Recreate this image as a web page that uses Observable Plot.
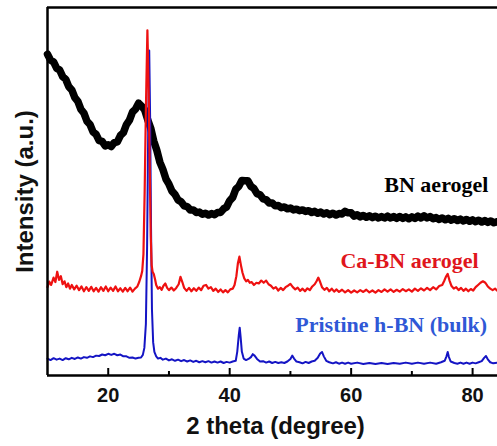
<!DOCTYPE html>
<html><head><meta charset="utf-8">
<script src="https://cdn.jsdelivr.net/npm/d3@7"></script>
<script src="https://cdn.jsdelivr.net/npm/@observablehq/plot@0.6"></script>
<style>body{margin:0;background:#fff}#chart svg{display:block}</style>
</head><body><div id="chart"></div>
<script>
// ---- data (two-theta in degrees, intensity in arbitrary units) ----
const xDomain = [10, 84.1];
const yDomain = [0, 100];
const majorTicks = [20, 40, 60, 80];
const minorTicks = [30, 50, 70];
const xTitle = "2 theta (degree)";
const yTitle = "Intensity (a.u.)";
const seriesLabels = ["BN aerogel", "Ca-BN aerogel", "Pristine h-BN (bulk)"];
const labelX = [82.6, 81.0, 82.4];
const labelY = [50.0, 29.3, 11.7];

const bnAerogel = [
[10,87.3],[10.5,85.7],[11,85.2],[11.5,83.5],[12,83.0],[12.5,81.2],[13,80.5],[13.5,78.5],[14,77.6],[14.5,75.5],
[15,74.5],[15.5,72.3],[16,71.3],[16.5,69.1],[17,68.2],[17.5,66.2],[18,65.5],[18.5,63.8],[19,63.6],[19.5,62.4],
[20,62.7],[20.5,62.2],[21,63.3],[21.5,63.5],[22,65.2],[22.5,66.0],[23,68.2],[23.5,69.4],[24,71.6],[24.5,72.4],
[25,74.0],[25.5,73.2],[26,72.2],[26.5,69.5],[27,67.2],[27.5,63.7],[28,61.2],[28.5,58.0],[29,56.0],[29.5,53.4],
[30,52.0],[30.5,50.1],[31,49.2],[31.5,47.7],[32,47.2],[32.5,46.1],[33,45.9],[33.5,45.0],[34,45.0],[34.5,44.3],
[35,44.4],[35.5,43.8],[36,44.1],[36.5,43.6],[37,44.0],[37.5,43.7],[38,44.3],[38.5,44.3],[39,45.3],[39.5,45.8],
[40,47.5],[40.5,48.4],[41,50.6],[41.5,51.4],[42,53.0],[42.5,52.9],[43,52.9],[43.5,51.4],[44,50.8],[44.5,49.4],
[45,49.1],[45.5,48.0],[46,47.8],[46.5,46.9],[47,46.9],[47.5,46.1],[48,46.2],[48.5,45.6],[49,45.8],[49.5,45.3],
[50,45.5],[50.5,45.0],[51,45.2],[51.5,44.8],[52,45.0],[52.5,44.6],[53,44.8],[53.5,44.3],[54,44.6],[54.5,44.1],
[55,44.4],[55.5,43.9],[56,44.2],[56.5,43.7],[57,44.1],[57.5,43.6],[58,44.0],[58.5,43.9],[59,44.6],[59.5,44.2],
[60,44.2],[60.5,43.3],[61,43.7],[61.5,43.1],[62,43.5],[62.5,43.0],[63,43.4],[63.5,42.9],[64,43.3],[64.5,42.8],
[65,43.2],[65.5,42.8],[66,43.3],[66.5,42.8],[67,43.2],[67.5,42.7],[68,43.2],[68.5,42.7],[69,43.1],[69.5,42.6],
[70,43.1],[70.5,42.7],[71,43.3],[71.5,42.8],[72,43.4],[72.5,42.8],[73,43.2],[73.5,42.6],[74,42.9],[74.5,42.4],
[75,42.8],[75.5,42.3],[76,42.7],[76.5,42.2],[77,42.6],[77.5,42.1],[78,42.5],[78.5,42.0],[79,42.4],[79.5,41.9],
[80,42.3],[80.5,41.8],[81,42.2],[81.5,41.7],[82,42.1],[82.5,41.6],[83,42.0],[83.5,41.5],[84.1,41.8]
];

const caBnAerogel = [
[10,24.0],[10.3,25.5],[10.6,24.6],[11,26.6],[11.3,25.4],[11.6,28.2],[11.9,26.0],[12.2,27.0],[12.5,24.8],[12.8,25.6],
[13.1,24.0],[13.4,25.0],[13.7,23.6],[14,24.6],[14.4,23.4],[14.8,24.4],[15.2,23.2],[15.6,24.2],[16,22.9],[16.4,24.0],
[16.8,23.0],[17.2,24.1],[17.6,22.9],[18,23.8],[18.4,22.8],[18.8,24.0],[19.2,23.0],[19.6,24.2],[20,22.9],[20.4,23.9],
[20.8,23.0],[21.2,24.2],[21.6,22.9],[22,23.7],[22.4,22.8],[22.8,23.8],[23.2,22.9],[23.6,23.9],[24,22.8],[24.4,23.6],
[24.8,24.2],[25.1,25.4],[25.4,27.0],[25.6,28.4],[25.8,33],[26.0,50],[26.2,72],[26.45,93.8],[26.65,78],[26.85,55],
[27.0,38],[27.15,30],[27.3,28.2],[27.5,27.6],[27.7,26.2],[27.9,24.6],[28.2,23.6],[28.5,24.0],[28.8,23.3],[29.1,24.4],
[29.4,25.0],[29.7,23.8],[30,23.2],[30.4,23.9],[30.8,23.1],[31.2,23.8],[31.6,24.8],[31.9,26.8],[32.2,25.4],[32.5,23.8],
[32.9,23.0],[33.3,23.8],[33.7,22.9],[34.1,23.7],[34.5,23.0],[34.9,23.9],[35.3,23.2],[35.7,24.4],[36.1,24.6],[36.5,23.6],
[36.9,24.0],[37.3,23.0],[37.7,23.6],[38.1,22.7],[38.5,23.4],[38.9,22.6],[39.3,23.2],[39.7,22.6],[40.1,23.4],[40.5,23.6],
[40.8,24.6],[41.1,27.0],[41.35,30.5],[41.6,32.3],[41.85,30.0],[42.1,28.0],[42.4,26.4],[42.7,25.6],[43,26.0],[43.3,25.2],
[43.6,25.4],[44,24.6],[44.4,25.2],[44.8,25.0],[45.2,25.8],[45.6,25.2],[46,25.8],[46.4,24.8],[46.8,24.4],[47.2,23.6],
[47.6,24.0],[48,23.1],[48.4,23.8],[48.8,23.2],[49.2,24.0],[49.6,24.4],[50,24.9],[50.4,24.0],[50.8,23.4],[51.2,23.9],
[51.6,23.0],[52,23.6],[52.4,22.9],[52.8,23.7],[53.2,23.2],[53.6,24.2],[54,24.8],[54.3,25.6],[54.6,26.6],[54.9,25.4],
[55.2,24.0],[55.6,23.3],[56,23.8],[56.4,22.9],[56.8,23.6],[57.2,22.8],[57.6,23.4],[58,22.7],[58.5,23.3],[59,22.6],
[59.5,23.2],[60,22.5],[60.5,23.1],[61,22.6],[61.5,23.2],[62,22.7],[62.5,23.3],[63,22.6],[63.5,23.1],[64,22.5],
[64.5,23.2],[65,22.7],[65.5,23.4],[66,22.8],[66.5,23.4],[67,22.7],[67.5,23.3],[68,22.8],[68.5,23.5],[69,22.9],
[69.5,23.4],[70,22.8],[70.5,23.6],[71,23.0],[71.5,23.7],[72,23.1],[72.5,23.8],[73,23.2],[73.5,24.0],[74,23.4],
[74.5,24.3],[75,24.6],[75.3,25.6],[75.6,26.8],[75.9,27.6],[76.2,25.8],[76.5,24.4],[76.9,23.6],[77.3,24.0],[77.7,23.2],
[78.1,23.8],[78.5,23.0],[78.9,23.6],[79.3,22.9],[79.7,23.5],[80.1,23.1],[80.5,24.0],[80.9,24.6],[81.3,25.2],[81.7,25.6],
[82.1,25.2],[82.5,24.2],[82.9,23.6],[83.3,23.2],[83.7,23.6],[84.1,23.0]
];

const pristineHBN = [
[10,4.6],[10.5,4.2],[11,4.7],[11.5,4.3],[12,4.6],[12.5,4.2],[13,4.7],[13.5,4.4],[14,4.8],[14.5,4.5],
[15,4.9],[15.5,4.6],[16,5.0],[16.5,4.8],[17,5.2],[17.5,5.0],[18,5.4],[18.5,5.3],[19,5.7],[19.5,5.5],
[20,5.9],[20.5,5.6],[21,5.9],[21.5,5.5],[22,5.7],[22.5,5.2],[23,5.2],[23.5,4.8],[24,4.9],[24.5,4.6],
[25,4.8],[25.4,4.9],[25.7,5.6],[25.95,7.5],[26.2,14],[26.4,35],[26.6,70],[26.75,88.3],[26.9,70],[27.05,40],
[27.2,18],[27.4,9],[27.6,6.4],[27.9,5.2],[28.2,4.6],[28.6,4.8],[29,4.3],[29.5,4.6],[30,4.1],[30.5,4.4],
[31,4.0],[31.5,4.3],[32,3.9],[32.5,4.2],[33,3.8],[33.5,4.1],[34,3.7],[34.5,4.0],[35,3.6],[35.5,3.9],
[36,3.6],[36.5,3.9],[37,3.5],[37.5,3.8],[38,3.5],[38.5,3.8],[39,3.4],[39.5,3.7],[40,3.5],[40.5,3.8],
[41,4.0],[41.25,6.5],[41.5,11],[41.65,13.0],[41.8,10.5],[42.0,6.5],[42.3,4.6],[42.7,4.2],[43.1,4.5],[43.5,5.0],
[43.8,5.8],[44.1,5.4],[44.5,4.5],[45,3.8],[45.5,3.9],[46,3.5],[46.5,3.8],[47,3.4],[47.5,3.7],[48,3.4],
[48.5,3.6],[49,3.4],[49.5,3.8],[50,4.5],[50.3,5.4],[50.6,4.6],[51,3.8],[51.5,3.6],[52,3.3],[52.5,3.7],
[53,3.4],[53.5,3.8],[54,4.0],[54.5,4.8],[54.9,6.0],[55.2,6.4],[55.5,5.2],[55.9,4.0],[56.4,3.6],[57,3.3],
[57.5,3.6],[58,3.2],[58.5,3.5],[59,3.2],[59.5,3.5],[60,3.2],[61,3.5],[62,3.1],[63,3.4],[64,3.1],
[65,3.4],[66,3.1],[67,3.4],[68,3.2],[69,3.5],[70,3.2],[71,3.5],[72,3.2],[73,3.5],[74,3.2],
[74.8,3.6],[75.4,4.0],[75.7,5.2],[75.9,6.4],[76.1,5.0],[76.4,3.8],[77,3.4],[77.5,3.2],[78,3.5],[78.5,3.2],
[79,3.5],[79.5,3.2],[80,3.5],[80.5,3.3],[81,3.6],[81.5,3.9],[81.9,4.8],[82.2,5.3],[82.5,4.4],[82.9,3.6],
[83.4,3.3],[84.1,3.5]
];

// ---- styles ----
const BLACK = "#000000", RED = "#ee1111", BLUE = "#1414c4";
const RED_TEXT = "#e0161c", BLUE_TEXT = "#2f58d6";
const W = 497, H = 446, ML = 47, MR = 0, MT = 7, MB = 71;
const frameH = H - MT - MB;
const sans = "'Liberation Sans', Arial, sans-serif";
const serif = "'Liberation Serif', 'Times New Roman', serif";

const px = d => d[0], py = d => d[1];

const chart = Plot.plot({
  width: W, height: H,
  marginLeft: ML, marginRight: MR, marginTop: MT, marginBottom: MB,
  x: {domain: xDomain},
  y: {domain: yDomain, axis: null},
  style: {background: "#fff", fontFamily: sans, overflow: "visible"},
  marks: [
    Plot.line(bnAerogel, {x: px, y: py, stroke: BLACK, strokeWidth: 7.5, strokeLinejoin: "round"}),
    Plot.line(pristineHBN, {x: px, y: py, stroke: BLUE, strokeWidth: 2, strokeLinejoin: "round"}),
    Plot.line(caBnAerogel, {x: px, y: py, stroke: RED, strokeWidth: 2.2, strokeLinejoin: "round"}),
    Plot.ruleX([xDomain[0]], {stroke: BLACK, strokeWidth: 2.5}),
    Plot.ruleY(yDomain, {stroke: BLACK, strokeWidth: 2.5}),
    Plot.tickX(majorTicks, {x: d => d, stroke: BLACK, strokeWidth: 2, insetTop: frameH - 7}),
    Plot.tickX(minorTicks, {x: d => d, stroke: BLACK, strokeWidth: 2, insetTop: frameH - 4}),
    Plot.axisX(majorTicks, {tickSize: 0, tickPadding: 12, fontSize: 20, fontWeight: "bold", fontFamily: sans, fill: "#111"}),
    Plot.text([xTitle], {frameAnchor: "bottom", dy: 58, dx: 3, lineAnchor: "bottom", textAnchor: "middle", fontSize: 24, fontWeight: "bold", fontFamily: sans, fill: "#111"}),
    Plot.text([yTitle], {frameAnchor: "left", rotate: -90, dx: -15, lineAnchor: "bottom", textAnchor: "middle", fontSize: 24, fontWeight: "bold", fontFamily: sans, fill: "#111"}),
    Plot.text([seriesLabels[0]], {x: labelX[0], y: labelY[0], textAnchor: "end", lineAnchor: "bottom", fontSize: 22, fontWeight: "bold", fontFamily: serif, fill: BLACK}),
    Plot.text([seriesLabels[1]], {x: labelX[1], y: labelY[1], textAnchor: "end", lineAnchor: "bottom", fontSize: 22, fontWeight: "bold", fontFamily: serif, fill: RED_TEXT}),
    Plot.text([seriesLabels[2]], {x: labelX[2], y: labelY[2], textAnchor: "end", lineAnchor: "bottom", fontSize: 22, fontWeight: "bold", fontFamily: serif, fill: BLUE_TEXT})
  ]
});
document.getElementById("chart").append(chart);
</script>
</body></html>
